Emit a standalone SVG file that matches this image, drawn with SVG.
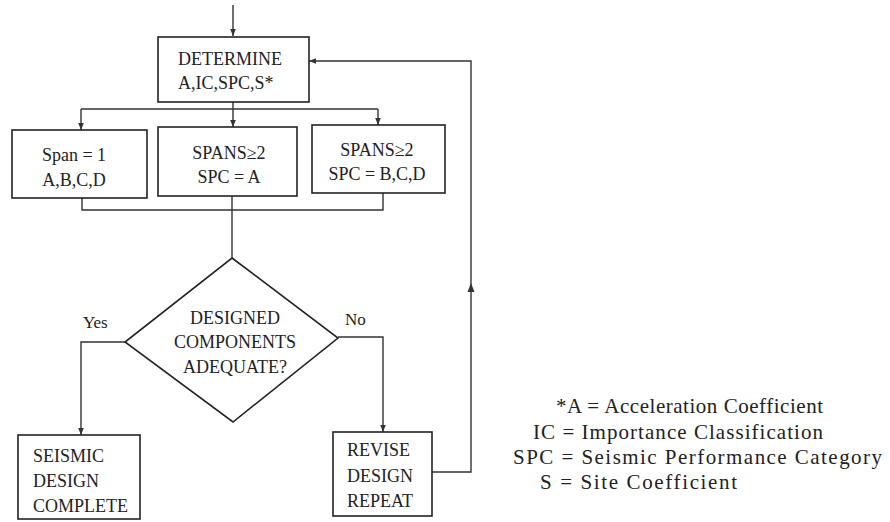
<svg xmlns="http://www.w3.org/2000/svg" width="890" height="522" viewBox="0 0 890 522">
<style>
  .box{fill:#fff;stroke:#222;stroke-width:1.6}
  .ln{fill:none;stroke:#333;stroke-width:1.4}
  text{font-family:'Liberation Serif','Times New Roman',serif;fill:#222}
  .t{font-size:18px}
  .c{text-anchor:middle}
  .lg{font-size:21px}
</style>
<defs>
  <marker id="ah" viewBox="0 0 10 10" refX="10" refY="5" markerWidth="7" markerHeight="7" markerUnits="userSpaceOnUse" orient="auto">
    <path d="M0,1 L10,5 L0,9 Z" fill="#333"/>
  </marker>
</defs>
<rect width="890" height="522" fill="#fff"/>
<g id="connectors">
  <path class="ln" d="M233,5 V36" marker-end="url(#ah)"/>
  <path class="ln" d="M233,102 V109"/>
  <path class="ln" d="M81,109 H378"/>
  <path class="ln" d="M81,109 V130" marker-end="url(#ah)"/>
  <path class="ln" d="M233,109 V127" marker-end="url(#ah)"/>
  <path class="ln" d="M378,109 V125" marker-end="url(#ah)"/>
  <path class="ln" d="M82,198 V210 H383 V193"/>
  <path class="ln" d="M232,196 V258"/>
  <path class="ln" d="M125,342 H81 V435" marker-end="url(#ah)"/>
  <path class="ln" d="M338,337 H383 V432" marker-end="url(#ah)"/>
  <path class="ln" d="M432,472 H471 V61 H309" marker-end="url(#ah)"/>
  <path d="M467.5,292 L471,283 L474.5,292 Z" fill="#333"/>
</g>
<g id="determine">
  <rect class="box" x="158" y="37" width="151" height="65"/>
  <text class="t" x="178" y="65">DETERMINE</text>
  <text class="t" x="178" y="89">A,IC,SPC,S*</text>
</g>
<g id="span1">
  <rect class="box" x="12" y="130" width="135" height="68"/>
  <text class="t c" x="74" y="161">Span = 1</text>
  <text class="t c" x="74" y="186">A,B,C,D</text>
</g>
<g id="spans2a">
  <rect class="box" x="158" y="127" width="139" height="69"/>
  <text class="t c" x="229" y="159">SPANS≥2</text>
  <text class="t c" x="229" y="183">SPC = A</text>
</g>
<g id="spans2bcd">
  <rect class="box" x="312" y="125" width="133" height="68"/>
  <text class="t c" x="377" y="156">SPANS≥2</text>
  <text class="t c" x="377" y="180">SPC = B,C,D</text>
</g>
<g id="decision">
  <polygon class="box" points="232,258 338,338 233,422 125,342"/>
  <text class="t c" x="235" y="324">DESIGNED</text>
  <text class="t c" x="235" y="348">COMPONENTS</text>
  <text class="t c" x="235" y="373">ADEQUATE?</text>
  <text class="t" x="83" y="328" style="font-size:17px">Yes</text>
  <text class="t" x="345" y="325" style="font-size:17px">No</text>
</g>
<g id="complete">
  <rect class="box" x="18" y="435" width="122" height="84"/>
  <text class="t" x="33" y="462">SEISMIC</text>
  <text class="t" x="33" y="487">DESIGN</text>
  <text class="t" x="33" y="512">COMPLETE</text>
</g>
<g id="revise">
  <rect class="box" x="333" y="432" width="99" height="84"/>
  <text class="t" x="347" y="456">REVISE</text>
  <text class="t" x="347" y="482">DESIGN</text>
  <text class="t" x="347" y="507">REPEAT</text>
</g>
<g id="legend">
  <text class="lg" x="556" y="413" textLength="267" lengthAdjust="spacing">*A = Acceleration Coefficient</text>
  <text class="lg" x="533" y="439" textLength="290" lengthAdjust="spacing">IC = Importance Classification</text>
  <text class="lg" x="513" y="464" textLength="369" lengthAdjust="spacing">SPC = Seismic Performance Category</text>
  <text class="lg" x="540" y="489" textLength="197" lengthAdjust="spacing">S = Site Coefficient</text>
</g>
</svg>
